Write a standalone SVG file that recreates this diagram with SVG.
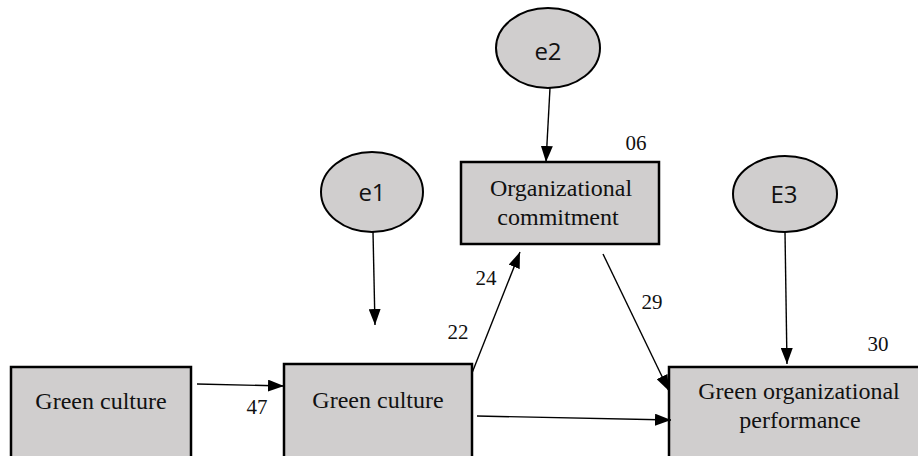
<svg xmlns="http://www.w3.org/2000/svg" width="918" height="456" viewBox="0 0 918 456">
<style>
.box{fill:#d0cece;stroke:#000;stroke-width:2.5}
.ell{fill:#d0cece;stroke:#000;stroke-width:2}
.t{font-family:"Liberation Serif","Times New Roman",serif;font-size:24px;fill:#111;text-anchor:middle}
.n{font-family:"Liberation Serif","Times New Roman",serif;font-size:21px;fill:#111;text-anchor:middle}
.e{font-family:"Open Sans","Noto Sans",sans-serif;font-size:24px;fill:#111;text-anchor:middle}
.c{stroke:#000;stroke-width:1.4;fill:none;marker-end:url(#ah)}
</style>
<defs>
<marker id="ah" viewBox="0 0 16 12" refX="16" refY="6" markerWidth="16" markerHeight="12" markerUnits="userSpaceOnUse" orient="auto">
<path d="M0,0 L16,6 L0,12 Z" fill="#000"/>
</marker>
</defs>
<rect width="918" height="456" fill="#fff"/>
<g id="gc1"><rect class="box" x="11" y="367" width="180" height="110"/><text class="t" x="101" y="409">Green culture</text></g>
<g id="gc2"><rect class="box" x="284" y="364" width="188" height="110"/><text class="t" x="378" y="408">Green culture</text></g>
<g id="oc"><rect class="box" x="461" y="162" width="198" height="82"/><text class="t" x="561" y="196">Organizational</text><text class="t" x="558" y="225">commitment</text></g>
<g id="gop"><rect class="box" x="669" y="367" width="260" height="110"/><text class="t" x="799" y="399">Green organizational</text><text class="t" x="800" y="428">performance</text></g>
<g id="e1"><ellipse class="ell" cx="372" cy="192" rx="51" ry="40"/><text class="e" x="372" y="201">e1</text></g>
<g id="e2"><ellipse class="ell" cx="548" cy="48" rx="52" ry="40"/><text class="e" x="548" y="60">e2</text></g>
<g id="E3"><ellipse class="ell" cx="785" cy="194" rx="52" ry="38"/><text class="e" x="784" y="203">E3</text></g>
<g id="connectors">
<line class="c" x1="197" y1="384" x2="284" y2="386"/>
<line class="c" x1="373" y1="232" x2="375" y2="325"/>
<line class="c" x1="550" y1="88" x2="546" y2="162"/>
<line class="c" x1="472" y1="373" x2="520" y2="252"/>
<line class="c" x1="603" y1="254" x2="669" y2="391"/>
<line class="c" x1="477" y1="416" x2="671" y2="420"/>
<line class="c" x1="785" y1="232" x2="787" y2="364"/>
</g>
<g id="labels">
<text class="n" x="257" y="414">47</text>
<text class="n" x="458" y="339">22</text>
<text class="n" x="486" y="285">24</text>
<text class="n" x="636" y="150">06</text>
<text class="n" x="652" y="309">29</text>
<text class="n" x="878" y="351">30</text>
</g>
</svg>
